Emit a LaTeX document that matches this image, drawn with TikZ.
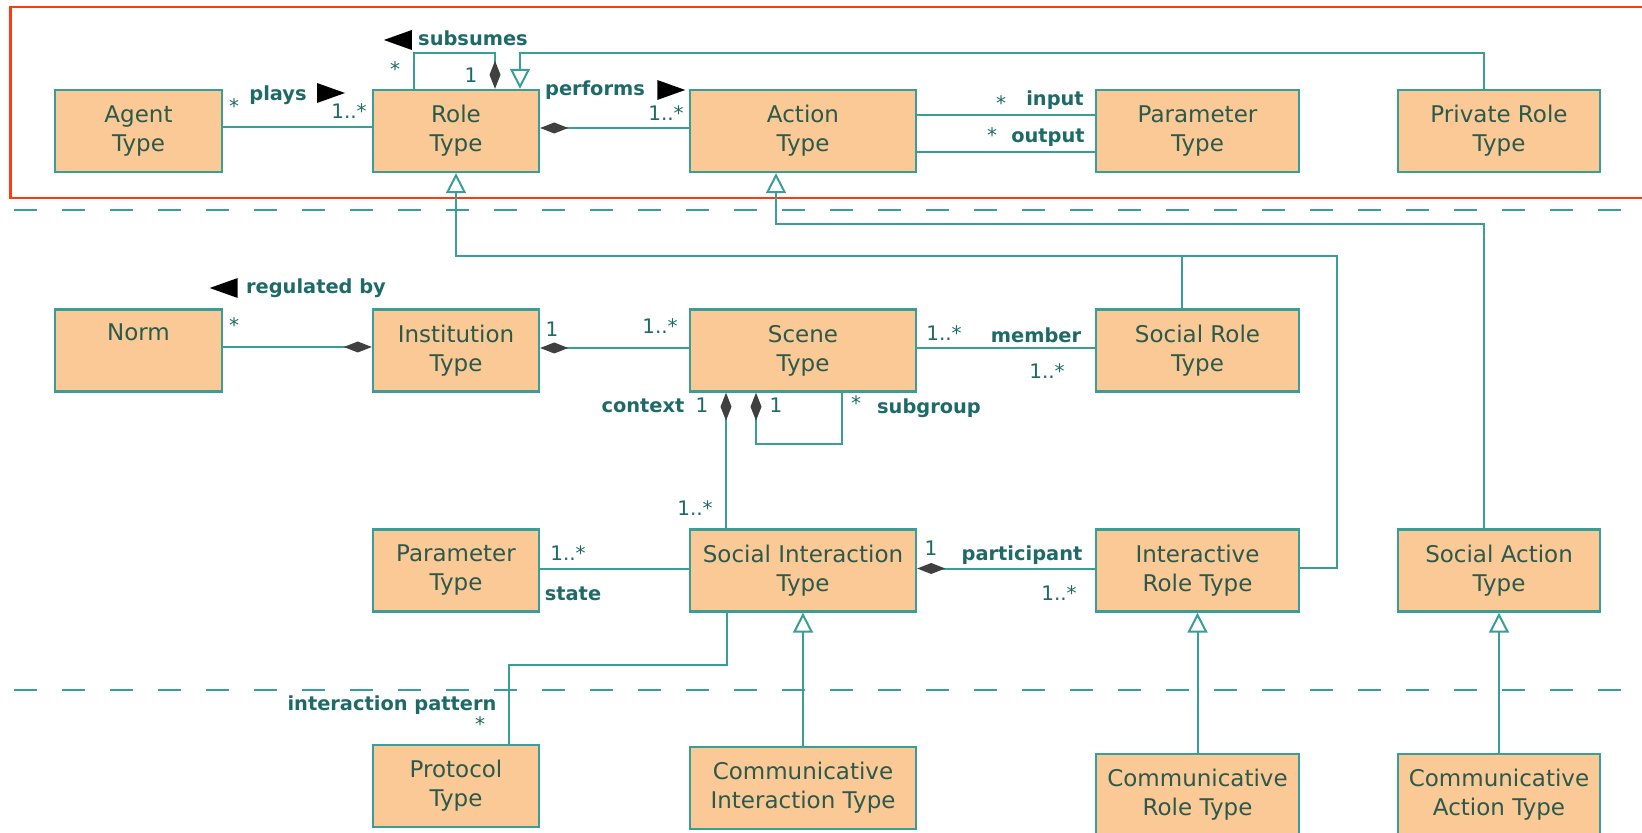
\documentclass[tikz,border=0pt]{standalone}
\usepackage{fontspec}
\setmainfont{DejaVu Sans}
\usepackage{tikz}
\usetikzlibrary{arrows.meta}

\definecolor{boxfill}{HTML}{FAC995}
\definecolor{tealline}{HTML}{3A9E98}
\definecolor{boxtext}{HTML}{2B5A4C}
\definecolor{labtext}{HTML}{1E6A68}
\definecolor{redframe}{HTML}{FF3A10}
\definecolor{diacol}{HTML}{404040}

\tikzset{
    cls/.style={draw=tealline, line width=1.2pt, fill=boxfill, text=boxtext, align=center,
        font=\fontsize{11.5}{14.5}\selectfont, minimum height=41pt, inner sep=0pt},
    colA/.style={minimum width=83.5pt},
    colB/.style={minimum width=83pt},
    colC/.style={minimum width=113pt},
    colD/.style={minimum width=101.5pt},
    colE/.style={minimum width=101pt},
    assoc/.style={draw=tealline, line width=1pt},
    comp/.style={assoc, {Diamond[fill=diacol, color=diacol, length=14pt, width=5.5pt]}-},
    gen/.style={assoc, -{Triangle[fill=white, length=10pt, width=10pt]}},
    lab/.style={text=labtext, font=\bfseries\fontsize{9.7}{11}\selectfont, inner sep=0pt,
        text height=7.5pt, text depth=2pt},
    mult/.style={text=labtext, font=\fontsize{10}{12}\selectfont, inner sep=0pt,
        text height=7.5pt, text depth=2pt},
    layer/.style={draw=tealline, line width=1.2pt, dash pattern=on 11.5pt off 12.5pt},
    dirleft/.pic={\fill[black] (0,0) -- (0,5pt) -- (-14pt,0) -- (0,-5pt) -- cycle;},
    dirright/.pic={\fill[black] (0,0) -- (0,5pt) -- (14pt,0) -- (0,-5pt) -- cycle;}
}

\begin{document}
\begin{tikzpicture}[x=0.5pt, y=-0.5pt]
    \path[use as bounding box, fill=white] (0,0) rectangle (1642,833);

    \draw[redframe, line width=1.3pt] (10.5,7) rectangle (1650,198);
    \draw[layer] (14,210) -- (1642,210);
    \draw[layer] (14,690) -- (1642,690);

    \node[cls,colA] (agent) at (138.5,131) {Agent\\Type};
    \node[cls,colB] (role) at (456,131) {Role\\Type};
    \node[cls,colC] (action) at (803,131) {Action\\Type};
    \node[cls,colD] (param) at (1197.5,131) {Parameter\\Type};
    \node[cls,colE] (prole) at (1499,131) {Private Role\\Type};

    \node[cls,colA] (norm) at (138.5,350.5) {Norm\\\strut};
    \node[cls,colB] (inst) at (456,350.5) {Institution\\Type};
    \node[cls,colC] (scene) at (803,350.5) {Scene\\Type};
    \node[cls,colD] (srole) at (1197.5,350.5) {Social Role\\Type};

    \node[cls,colB] (sparam) at (456,570.5) {Parameter\\Type};
    \node[cls,colC] (sint) at (803,570.5) {Social Interaction\\Type};
    \node[cls,colD] (irole) at (1197.5,570.5) {Interactive\\Role Type};
    \node[cls,colE] (sact) at (1499,570.5) {Social Action\\Type};

    \node[cls,colB] (proto) at (456,786) {Protocol\\Type};
    \node[cls,colC] (cint) at (803,788) {Communicative\\Interaction Type};
    \node[cls,colD] (crole) at (1197.5,795) {Communicative\\Role Type};
    \node[cls,colE] (cact) at (1499,795) {Communicative\\Action Type};

    \coordinate (subtop) at (455,53);
    \coordinate (pgtop) at (1000,53);
    \coordinate (agtop) at (1100,224);
    \coordinate (rgcorner) at (1337,256);
    \coordinate (subg) at (800,444);
    \coordinate (protobend) at (600,665);

    \draw[assoc] ([yshift=2pt]agent.east) -- ([yshift=2pt]role.west);
    \draw[comp] ([yshift=1.5pt]role.east) -- ([yshift=1.5pt]action.west);
    \draw[assoc] ([yshift=8pt]action.east) -- ([yshift=8pt]param.west);
    \draw[assoc] ([yshift=-10.5pt]action.east) -- ([yshift=-10.5pt]param.west);
    \draw[comp] ([xshift=19.5pt]role.north) |- (subtop) -| ([xshift=-21pt]role.north);
    \draw[gen] ([xshift=-7.5pt]prole.north) |- (pgtop) -| ([xshift=32pt]role.north);
    \draw[gen] ([xshift=-7.5pt]sact.north) |- (agtop) -| ([xshift=-13.5pt]action.south);
    \draw[gen] ([yshift=1.5pt]irole.east) -| (rgcorner) -| (role.south);
    \draw[assoc] ([xshift=-7.75pt]srole.north) -- ([xshift=-7.75pt]srole.north |- rgcorner);

    \draw[comp] ([yshift=1.75pt]inst.west) -- ([yshift=1.75pt]norm.east);
    \draw[comp] ([yshift=1.25pt]inst.east) -- ([yshift=1.25pt]scene.west);
    \draw[assoc] ([yshift=1.25pt]scene.east) -- ([yshift=1.25pt]srole.west);
    \draw[comp] ([xshift=-38.5pt]scene.south) -- ([xshift=-38.5pt]sint.north);
    \draw[comp] ([xshift=-23.5pt]scene.south) |- (subg) -| ([xshift=19.5pt]scene.south);

    \draw[assoc] ([yshift=1pt]sparam.east) -- ([yshift=1pt]sint.west);
    \draw[comp] ([yshift=1pt]sint.east) -- ([yshift=1pt]irole.west);
    \draw[assoc] ([xshift=-38pt]sint.south) |- (protobend) -| ([xshift=26.5pt]proto.north);
    \draw[gen] (cint.north) -- (sint.south);
    \draw[gen] (crole.north) -- (irole.south);
    \draw[gen] (cact.north) -- (sact.south);

    \node[lab] (lsub) at (473,40) {subsumes};
    \node[mult] (msubA) at (395,71) {*};
    \node[mult] (msubB) at (471,77) {1};
    \node[mult] (mplaysA) at (234,108) {*};
    \node[lab] (lplays) at (278,95) {plays};
    \node[mult] (mplaysB) at (349,113) {1..*};
    \node[lab] (lperf) at (595,90) {performs};
    \node[mult] (mperf) at (666,115) {1..*};
    \node[mult] (min) at (1001,105) {*};
    \node[lab] (lin) at (1055,100) {input};
    \node[mult] (mout) at (992,137) {*};
    \node[lab] (lout) at (1048,137) {output};

    \node[lab] (lreg) at (316,288) {regulated by};
    \node[mult] (mnorm) at (234,327) {*};
    \node[mult] (minst) at (552,331) {1};
    \node[mult] (mscene) at (660,328) {1..*};
    \node[mult] (mmemA) at (944,335) {1..*};
    \node[lab] (lmem) at (1036,337) {member};
    \node[mult] (mmemB) at (1047,373) {1..*};
    \node[lab] (lctx) at (643,407) {context};
    \node[mult] (mctxA) at (702,407) {1};
    \node[mult] (msubgA) at (776,407) {1};
    \node[mult] (msubgB) at (856,405) {*};
    \node[lab] (lsubg) at (929,408) {subgroup};

    \node[mult] (mctxB) at (695,510) {1..*};
    \node[mult] (mstate) at (568,555) {1..*};
    \node[lab] (lstate) at (573,595) {state};
    \node[mult] (mpartA) at (931,550) {1};
    \node[lab] (lpart) at (1022,555) {participant};
    \node[mult] (mpartB) at (1059,595) {1..*};
    \node[lab] (lpat) at (392,705) {interaction pattern};
    \node[mult] (mpat) at (480,726) {*};

    \pic at ([xshift=-3pt]lsub.west) {dirleft};
    \pic at ([xshift=5pt,yshift=1pt]lplays.east) {dirright};
    \pic at ([xshift=6pt]lperf.east) {dirright};
    \pic at ([xshift=-4pt]lreg.west) {dirleft};
\end{tikzpicture}
\end{document}
